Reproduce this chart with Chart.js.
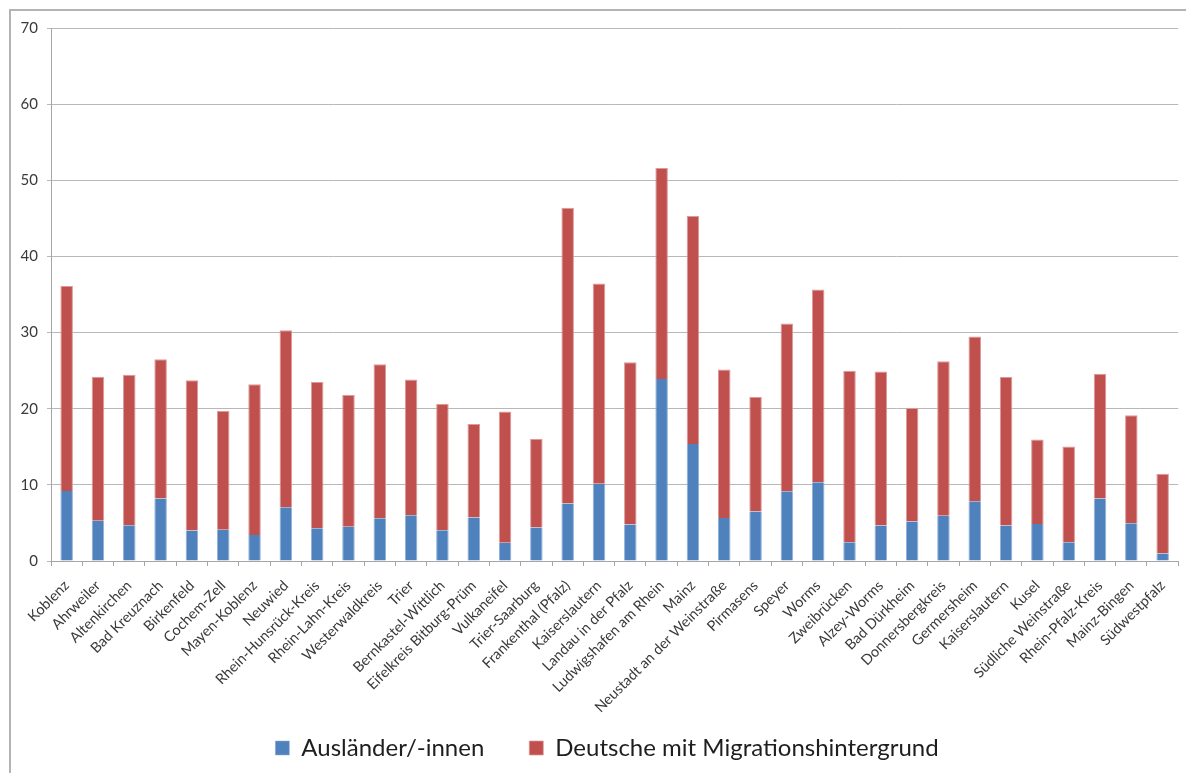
<!DOCTYPE html>
<html lang="de">
<head>
<meta charset="utf-8">
<title>Bevölkerung mit Migrationshintergrund in Rheinland-Pfalz</title>
<script src="https://cdn.jsdelivr.net/npm/chart.js@4.4.1/dist/chart.umd.min.js"></script>
<style>
  html, body { margin: 0; padding: 0; background: #ffffff; }
  #wrap { position: relative; width: 1186px; height: 773px; overflow: hidden; }
  #frame {
    position: absolute; left: 9px; top: 9px; width: 1200px; height: 800px;
    border-left: 2px solid #b4b4b4; border-top: 2px solid #b4b4b4;
    box-sizing: border-box; pointer-events: none;
  }
  #chart { position: absolute; left: 0; top: 0; }
</style>
</head>
<body>
<div id="wrap">
  <div id="frame"></div>
  <canvas id="chart" width="1186" height="773"></canvas>
</div>
<script>
// Kreisfreie Städte und Landkreise
const regions = [
  'Koblenz', 'Ahrweiler', 'Altenkirchen', 'Bad Kreuznach', 'Birkenfeld', 'Cochem-Zell',
  'Mayen-Koblenz', 'Neuwied', 'Rhein-Hunsrück-Kreis', 'Rhein-Lahn-Kreis', 'Westerwaldkreis',
  'Trier', 'Bernkastel-Wittlich', 'Eifelkreis Bitburg-Prüm', 'Vulkaneifel', 'Trier-Saarburg',
  'Frankenthal (Pfalz)', 'Kaiserslautern', 'Landau in der Pfalz', 'Ludwigshafen am Rhein',
  'Mainz', 'Neustadt an der Weinstraße', 'Pirmasens', 'Speyer', 'Worms', 'Zweibrücken',
  'Alzey-Worms', 'Bad Dürkheim', 'Donnersbergkreis', 'Germersheim', 'Kaiserslautern',
  'Kusel', 'Südliche Weinstraße', 'Rhein-Pfalz-Kreis', 'Mainz-Bingen', 'Südwestpfalz'
];

// Anteil in Prozent
const auslaender = [
  9.2, 5.3, 4.7, 8.2, 4.0, 4.1, 3.4, 7.05, 4.3, 4.5, 5.6,
  6.0, 4.05, 5.7, 2.4, 4.4, 7.55, 10.15, 4.8, 23.9, 15.35,
  5.65, 6.5, 9.15, 10.35, 2.45, 4.65, 5.2, 5.95, 7.85, 4.65,
  4.85, 2.45, 8.2, 4.95, 1.0
];
const deutscheMigration = [
  26.9, 18.9, 19.75, 18.3, 19.75, 15.6, 19.8, 23.25, 19.2, 17.3, 20.25,
  17.85, 16.6, 12.3, 17.25, 11.65, 38.85, 26.3, 21.3, 27.7, 29.95,
  19.5, 15.05, 22.05, 25.3, 22.55, 20.25, 14.9, 20.3, 21.65, 19.5,
  11.1, 12.6, 16.4, 14.2, 10.45
];

const seriesNames = ['Ausländer/-innen', 'Deutsche mit Migrationshintergrund'];
const yTicks = { min: 0, max: 70, step: 10 };

const FONT = 'Lato, "Open Sans", "DejaVu Sans", sans-serif';
const gridColor = '#b8b8b8';
const axisColor = '#a6a6a6';
const textColor = '#3a3a3a';

// Tick labels may spill outside their axis boxes (the rotated category
// names reach into the legend band, the value labels sit left of a narrow
// y-axis box), so drawing them is not clipped to the box.
const unclipTickLabels = {
  id: 'unclipTickLabels',
  beforeDraw(chart) {
    for (const id of ['x', 'y']) {
      const s = chart.scales[id];
      if (s && typeof s._computeLabelArea === 'function') {
        s._computeLabelArea = () => undefined;
      }
    }
  }
};

new Chart(document.getElementById('chart'), {
  type: 'bar',
  data: {
    labels: regions,
    datasets: [
      {
        label: seriesNames[0],
        data: auslaender,
        backgroundColor: '#4f81bd',
        borderColor: '#8fb0d9',
        borderWidth: { left: 1, right: 1, top: 0, bottom: 0 },
        borderSkipped: false
      },
      {
        label: seriesNames[1],
        data: deutscheMigration,
        backgroundColor: '#c0504d',
        borderColor: '#dd9a98',
        borderWidth: { left: 1, right: 1, top: 1, bottom: 0 },
        borderSkipped: false
      }
    ]
  },
  plugins: [unclipTickLabels],
  options: {
    responsive: false,
    animation: false,
    devicePixelRatio: 1,
    layout: { padding: { left: 32, right: 4, top: 28, bottom: 3 } },
    datasets: { bar: { barPercentage: 0.4, categoryPercentage: 1.0 } },
    scales: {
      x: {
        stacked: true,
        offset: true,
        grid: {
          offset: true,
          drawOnChartArea: false,
          drawTicks: true,
          tickLength: 5,
          color: axisColor
        },
        border: { color: axisColor, width: 1 },
        ticks: {
          autoSkip: false,
          maxRotation: 45,
          minRotation: 45,
          padding: 11,
          color: textColor,
          font: { family: FONT, size: 14.5 }
        },
        afterFit: (s) => { s.height = 130; }
      },
      y: {
        stacked: true,
        min: yTicks.min,
        max: yTicks.max,
        grid: { color: gridColor, tickLength: 4, lineWidth: 1 },
        border: { color: axisColor, width: 1 },
        ticks: {
          stepSize: yTicks.step,
          padding: 9,
          color: textColor,
          font: { family: FONT, size: 15 }
        },
        afterFit: (s) => { s.width = 19; }
      }
    },
    plugins: {
      legend: {
        position: 'bottom',
        align: 'center',
        labels: {
          boxWidth: 14,
          boxHeight: 14,
          padding: 45,
          color: '#1e1e1e',
          font: { family: FONT, size: 24 }
        }
      },
      tooltip: { enabled: false }
    }
  }
});
</script>
</body>
</html>
